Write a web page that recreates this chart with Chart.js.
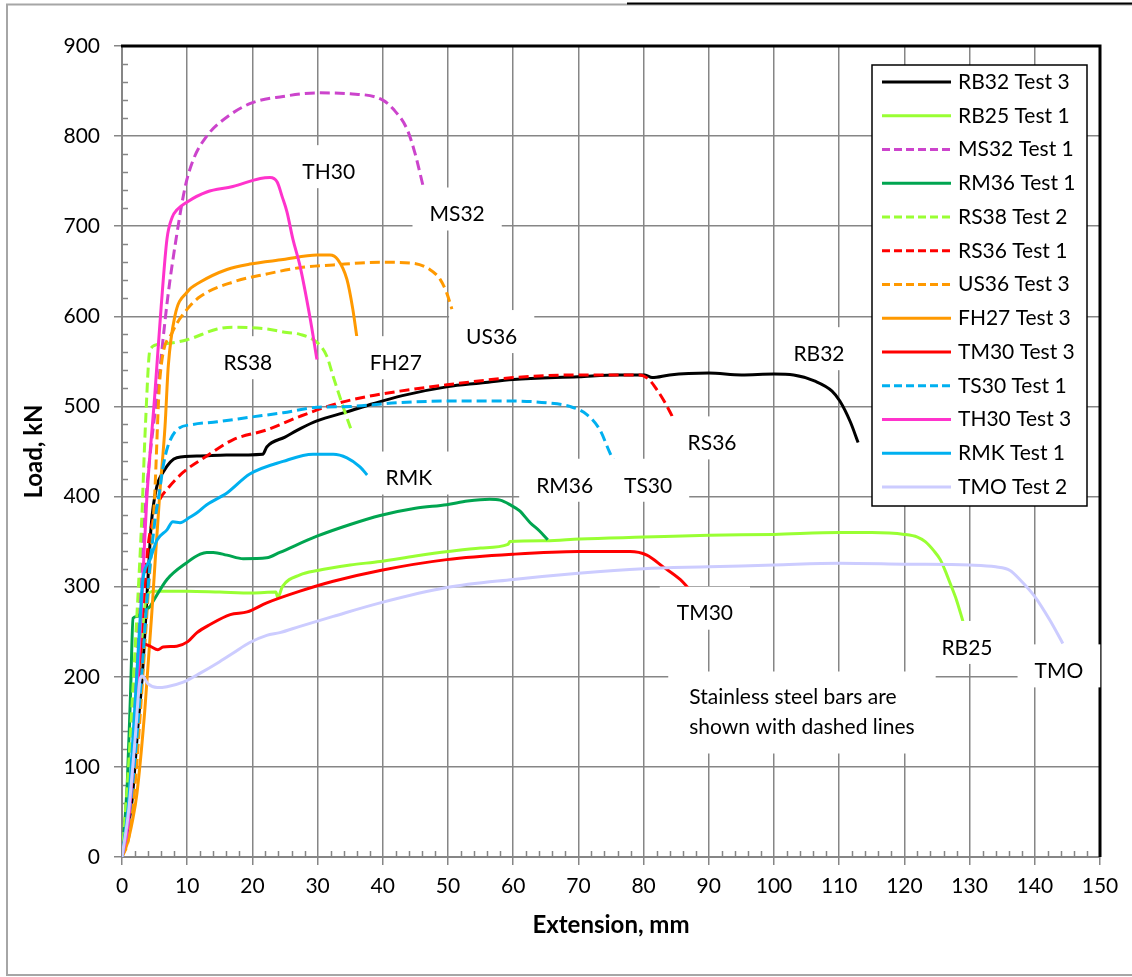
<!DOCTYPE html>
<html>
<head>
<meta charset="utf-8">
<script src="https://cdn.jsdelivr.net/npm/chart.js@4.4.1/dist/chart.umd.min.js"></script>
<style>
  html, body { margin: 0; padding: 0; background: #fff; }
  #wrap { width: 1132px; height: 977px; }
</style>
</head>
<body>
<div id="wrap"><canvas id="myChart" width="1132" height="977"></canvas></div>
<script>
// extension (mm), load (kN)
const rb32 = [[0,0],[1.5,60],[2.5,150],[3.1,200],[4,311],[4.5,370],[5.3,410],[6.3,427],[8.4,443],[12,445],[16,446],[21.6,447],[22.2,455],[25,466],[27.5,476],[29.9,484],[34.5,494],[38.5,503],[43,512],[50,522],[55,526],[60,530],[70,533],[76,535],[80.2,535],[81.3,532],[84,535],[90,537],[95,535],[100,536],[103,535],[106.3,528],[108.9,517],[110.1,506],[111.7,483],[112.9,460]];
const rb25 = [[0,0],[1,60],[2,150],[3,240],[3.8,290],[5,295],[10,295],[15,294],[20,293],[23.6,294],[23.9,288],[24.6,300],[27.3,313],[30,318],[35,324],[39.6,328],[45,334],[50,339],[55,343],[59.2,347],[59.5,350],[65,351],[70.2,353],[80,355],[90,357],[100,358],[110,360],[115,360],[120,358],[122,355],[123.2,350],[124.5,340],[125.5,330],[126.3,317],[127,304],[128,285],[129,261]];
const ms32 = [[0,0],[1,40],[2,180],[2.8,300],[3.8,408],[5.5,520],[7,620],[8.3,686],[9.7,744],[11,775],[13,800],[15,815],[19.6,836],[24.7,844],[29.9,848],[35,847],[40,840],[41.6,830],[43.7,808],[44.9,782],[46.2,744]];
const rm36 = [[0,0],[0.8,80],[1.3,180],[1.7,265],[2.3,267],[3,271],[4.3,278],[4.8,284],[6.9,308],[10,327],[12,336],[13,338],[14,338],[16.1,335],[18.6,331],[22.2,332],[24.2,338],[29.9,356],[35,369],[39.6,379],[45,387],[49.8,391],[53,395],[56.4,397],[58,396],[59.5,391],[61,384],[62.6,371],[64,362],[65.3,352]];
const rs38 = [[0,0],[1,100],[2,230],[3,370],[3.6,480],[4.3,563],[5.8,569],[10,574],[14.6,586],[17,588],[22.2,586],[25.3,582],[27.3,580],[29.9,571],[31.4,556],[32.4,533],[33.9,500],[35.3,471]];
const rs36 = [[0,0],[1.5,80],[2.5,180],[3.3,280],[4,345],[5,380],[5.8,397],[6.9,408],[9.4,427],[13,445],[17,463],[22.2,474],[27.3,489],[32.4,502],[37.6,511],[42.6,517],[49.8,524],[60,532],[70,535],[79.4,535],[80.8,530],[82,519],[83.3,504],[84.4,489]];
const us36 = [[0,0],[1,20],[2,80],[3,180],[4,290],[5,400],[5.8,530],[7.7,582],[10,608],[12,622],[17,638],[22.2,647],[27.3,654],[32.4,657],[39.6,660],[44.6,659],[47.2,652],[48.8,641],[49.8,626],[50.6,608]];
const fh27 = [[0,0],[0.8,15],[1.6,40],[2.3,71],[3.5,163],[4.6,274],[5.1,330],[5.8,404],[6.6,478],[7.1,545],[8.1,600],[10,627],[12,638],[16.1,652],[19.6,658],[24.7,663],[29.9,668],[31.9,668],[33.1,663],[34.5,641],[35.4,608],[36,578]];
const tm30 = [[0,0],[1,50],[2,140],[2.8,225],[3.4,236],[4.3,234],[5.5,230],[6.3,233],[8.4,234],[10.1,239],[11.5,249],[13.5,258],[16.6,269],[19.2,272],[22.2,282],[27.3,295],[32.4,306],[39.6,318],[49.8,330],[60,336],[70,339],[77.9,339],[80.5,335],[83,322],[85.6,308],[86.8,299]];
const ts30 = [[0,0],[1,40],[2,110],[3,200],[4,300],[5,370],[5.8,408],[6.3,433],[7,455],[8.4,474],[10.9,480],[14.6,483],[19.6,488],[24.7,493],[29.9,499],[35,500],[42.2,504],[49.8,506],[60,506],[65.2,504],[68.7,500],[71.3,491],[73.3,474],[74.8,449],[75.4,440]];
const th30 = [[0,0],[1,40],[2,140],[3,280],[3.8,397],[5,510],[6,610],[6.9,686],[7.7,710],[8.4,718],[10,727],[13,738],[17,744],[21.2,753],[22.7,754],[23.8,749],[24.6,732],[25.3,716],[26.2,686],[27.3,656],[28.8,600],[29.9,552]];
const rmk = [[0,0],[1,60],[2,170],[3,290],[3.2,308],[4.3,330],[5.4,352],[6.9,363],[7.8,372],[8.9,371],[10.4,377],[11.5,382],[13,391],[16.1,404],[19.6,425],[24.7,439],[29.3,447],[32.4,447],[34.5,443],[36.5,433],[37.6,424]];
const tmo = [[0,0],[1,50],[2,130],[2.8,198],[3.1,201],[4,192],[5.4,188],[6.9,189],[9.4,194],[12,204],[14.6,215],[17,226],[19.6,238],[22.2,246],[24.2,249],[27.3,256],[32.4,267],[39.6,282],[49.8,299],[60,308],[70,315],[80,320],[90,322],[100,324],[110,326],[120,325],[130,324],[134,322],[136.2,318],[137.7,308],[140,289],[142.3,263],[144.3,237]];

const seriesNames = ['RB32 Test 3','RB25 Test 1','MS32 Test 1','RM36 Test 1','RS38 Test 2','RS36 Test 1','US36 Test 3','FH27 Test 3','TM30 Test 3','TS30 Test 1','TH30 Test 3','RMK Test 1','TMO Test 2'];
const seriesData = [rb32, rb25, ms32, rm36, rs38, rs36, us36, fh27, tm30, ts30, th30, rmk, tmo];

// styling
const seriesColors = ['#000000','#99ff33','#cc44cc','#00a550','#99ff33','#ff0000','#ff9900','#ff9900','#ff0000','#00b0f0','#ff33cc','#00b0f0','#ccccff'];
const seriesDashed = [false,false,true,false,true,true,true,false,false,true,false,false,false];

const FONT = 'Lato, "DejaVu Sans", sans-serif';
const GRID = '#868686';

// text placed next to curves: [text, extension, load]
const curveLabels = [
  ['TH30', 31.7, 760], ['MS32', 51.4, 713], ['US36', 56.7, 577], ['FH27', 42.0, 548],
  ['RS38', 19.3, 548], ['RB32', 106.9, 558], ['RS36', 90.5, 459], ['RMK', 44.0, 420],
  ['RM36', 67.9, 412], ['TS30', 80.7, 412], ['TM30', 89.4, 270], ['RB25', 129.6, 232],
  ['TMO', 143.7, 206]
];
const noteLines = ['Stainless steel bars are', 'shown with dashed lines'];

const datasets = seriesData.map((pts, i) => ({
  label: seriesNames[i],
  data: pts.map(p => ({ x: p[0], y: p[1] })),
  borderColor: seriesColors[i],
  backgroundColor: seriesColors[i],
  borderWidth: 3,
  borderDash: seriesDashed[i] ? [10, 5] : [],
  pointRadius: 0,
  cubicInterpolationMode: 'monotone',
  fill: false,
  order: seriesData.length - i
}));

const framePlugin = {
  id: 'frame',
  beforeDraw(chart) {
    const ctx = chart.ctx;
    ctx.save();
    ctx.fillStyle = '#fff';
    ctx.fillRect(0, 0, chart.width, chart.height);
    ctx.strokeStyle = '#a6a6a6';
    ctx.lineWidth = 2;
    ctx.strokeRect(7, 4.5, chart.width + 20, 970.5);
    ctx.strokeStyle = '#000';
    ctx.beginPath();
    ctx.moveTo(627, 3.5);
    ctx.lineTo(chart.width, 3.5);
    ctx.stroke();
    ctx.restore();
  },
  beforeDatasetsDraw(chart) {
    // minor tick marks on the inside of the axes
    const ctx = chart.ctx, ca = chart.chartArea;
    const xs = chart.scales.x, ys = chart.scales.y;
    ctx.save();
    ctx.strokeStyle = GRID;
    ctx.lineWidth = 1.5;
    ctx.beginPath();
    for (let v = 20; v < 900; v += 20) {
      if (v % 100 === 0) continue;
      const y = Math.round(ys.getPixelForValue(v)) + 0.5;
      ctx.moveTo(ca.left, y);
      ctx.lineTo(ca.left + 6, y);
    }
    for (let v = 2; v < 150; v += 2) {
      if (v % 10 === 0) continue;
      const x = Math.round(xs.getPixelForValue(v)) + 0.5;
      ctx.moveTo(x, ca.bottom);
      ctx.lineTo(x, ca.bottom - 6);
    }
    ctx.stroke();
    ctx.restore();
  },
  afterDatasetsDraw(chart) {
    const ctx = chart.ctx, ca = chart.chartArea;
    const xs = chart.scales.x, ys = chart.scales.y;
    ctx.save();
    // black top and right border
    ctx.strokeStyle = '#000';
    ctx.lineWidth = 3;
    ctx.beginPath();
    ctx.moveTo(ca.left - 1, ca.top);
    ctx.lineTo(ca.right, ca.top);
    ctx.lineTo(ca.right, ca.bottom);
    ctx.stroke();

    // curve labels in white boxes
    ctx.font = '21px ' + FONT;
    ctx.textAlign = 'center';
    ctx.textBaseline = 'middle';
    curveLabels.forEach(([t, vx, vy]) => {
      const cx = xs.getPixelForValue(vx), cy = ys.getPixelForValue(vy);
      const w = ctx.measureText(t).width;
      ctx.fillStyle = '#fff';
      ctx.fillRect(cx - w / 2 - 17, cy - 27, w + 34, 43);
      ctx.fillStyle = '#000';
      ctx.fillText(t, cx, cy);
    });

    // note
    const nx = xs.getPixelForValue(87);
    const ny = ys.getPixelForValue(177);
    const nw = Math.max(...noteLines.map(l => ctx.measureText(l).width));
    ctx.fillStyle = '#fff';
    ctx.fillRect(nx - 21, ny - 26, nw + 42, 82);
    ctx.fillStyle = '#000';
    ctx.textAlign = 'left';
    noteLines.forEach((l, i) => ctx.fillText(l, nx, ny + i * 30));

    // legend
    const lw = 215, lh = 441;
    const lx = ca.right - 228, ly = ca.top + 19;
    ctx.fillStyle = '#fff';
    ctx.fillRect(lx, ly, lw, lh);
    ctx.strokeStyle = '#000';
    ctx.lineWidth = 1.5;
    ctx.strokeRect(lx, ly, lw, lh);
    chart.data.datasets.forEach((ds, i) => {
      const ry = ly + 17 + i * 33.75;
      ctx.strokeStyle = ds.borderColor;
      ctx.lineWidth = 3;
      ctx.setLineDash(ds.borderDash.length ? [8, 4] : []);
      ctx.beginPath();
      ctx.moveTo(lx + 10, ry);
      ctx.lineTo(lx + 79, ry);
      ctx.stroke();
      ctx.setLineDash([]);
      ctx.fillStyle = '#000';
      ctx.fillText(ds.label, lx + 86, ry);
    });
    ctx.restore();
  }
};

const tickFont = { family: FONT, size: 21 };
const titleFont = { family: FONT, size: 24, weight: 'bold' };

new Chart(document.getElementById('myChart').getContext('2d'), {
  type: 'line',
  data: { datasets: datasets },
  options: {
    responsive: false,
    animation: false,
    devicePixelRatio: 1,
    layout: { padding: { top: 46, right: 32, bottom: 0, left: 0 } },
    plugins: { legend: { display: false }, tooltip: { enabled: false } },
    scales: {
      x: {
        type: 'linear', min: 0, max: 150,
        ticks: { stepSize: 10, font: tickFont, color: '#000', padding: 9, maxRotation: 0 },
        grid: { color: GRID, lineWidth: 1.5, tickLength: 8, tickColor: GRID },
        border: { color: GRID, width: 2 },
        title: { display: true, text: 'Extension, mm', font: titleFont, color: '#000', padding: { top: 0, bottom: 37 } },
        afterFit: s => { s.height = 120; }
      },
      y: {
        type: 'linear', min: 0, max: 900,
        ticks: { stepSize: 100, font: tickFont, color: '#000', padding: 14 },
        grid: { color: GRID, lineWidth: 1.5, tickLength: 8, tickColor: GRID },
        border: { color: GRID, width: 2 },
        title: { display: true, text: 'Load, kN', font: titleFont, color: '#000', padding: { top: 20, bottom: 0 } },
        afterFit: s => { s.width = 122; }
      }
    }
  },
  plugins: [framePlugin]
});
</script>
</body>
</html>
